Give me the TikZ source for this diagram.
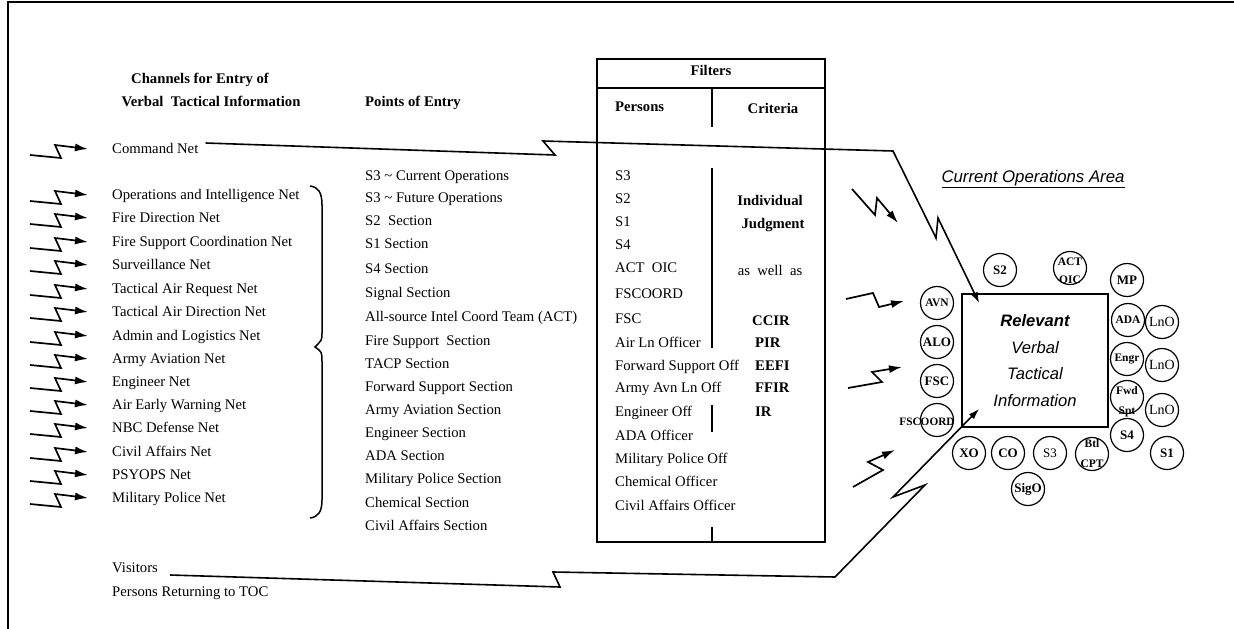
\documentclass[tikz,border=0pt]{standalone}
\usepackage{fontspec}
\setmainfont{Liberation Serif}
\setsansfont{Liberation Sans}
\usetikzlibrary{arrows.meta,calc,positioning}

\begin{document}
\begin{tikzpicture}[x=1pt, y=-1pt, every node/.style={font=\fontsize{14.7}{17}\selectfont}]
  \tikzstyle{entry} = [anchor=west, inner sep=0pt, text height=10pt, text depth=3pt]
  \tikzstyle{head} = [entry, font=\fontsize{14.7}{17}\selectfont\bfseries]
  \tikzstyle{bolt} = [draw, line width=1.7pt, -{Latex[length=13pt,width=8pt]}]
  \tikzstyle{feed} = [draw, line width=1.6pt, -{Latex[length=11pt,width=7pt]}]
  \tikzstyle{member} = [circle, draw, line width=1.2pt, minimum size=33pt, inner sep=0pt, font=\fontsize{13}{15}\selectfont\bfseries]
  \tikzstyle{tight} = [member, font=\fontsize{11.5}{19}\selectfont\bfseries]
  \tikzstyle{liaison} = [member, font=\fontsize{14}{15}\selectfont]

  \useasboundingbox (0,0) rectangle (1234,629);
  \draw[line width=2pt] (8,629) -- (8,2) -- (1234,2);

  % Channels
  \node[head, anchor=center] (chan1) at (200,80) {Channels for Entry of};
  \node[head, anchor=center] (chan2) at (211,103) {Verbal\ \ Tactical Information};
  \node[entry] (cmd) at (112,150) {Command Net};
  \node[entry] (ops) at (112,196) {Operations and Intelligence Net};
  \node[entry] (fdn) at (112,219) {Fire Direction Net};
  \node[entry] (fsn) at (112,243) {Fire Support Coordination Net};
  \node[entry] (surv) at (112,266) {Surveillance Net};
  \node[entry] (tarn) at (112,290) {Tactical Air Request Net};
  \node[entry] (tadn) at (112,313) {Tactical Air Direction Net};
  \node[entry] (aln) at (112,337) {Admin and Logistics Net};
  \node[entry] (aan) at (112,360) {Army Aviation Net};
  \node[entry] (engn) at (112,383) {Engineer Net};
  \node[entry] (aewn) at (112,406) {Air Early Warning Net};
  \node[entry] (nbc) at (112,429) {NBC Defense Net};
  \node[entry] (cavn) at (112,453) {Civil Affairs Net};
  \node[entry] (psy) at (112,476) {PSYOPS Net};
  \node[entry] (mpn) at (112,499) {Military Police Net};
  \node[entry] (vis) at (112,569) {Visitors};
  \node[entry] (ret) at (112,593) {Persons Returning to TOC};

  \foreach \n in {cmd,ops,fdn,fsn,surv,tarn,tadn,aln,aan,engn,aewn,nbc,cavn,psy,mpn}
    \draw[bolt] ($(\n.west)+(-82,5)$) -- ++(31,3) -- ++(-6,-13) -- ($(\n.west)+(-24,-1)$);

  \draw[line width=1.5pt] (310,186) .. controls (318,187) and (322,192) .. (322,205) -- (322,333)
    .. controls (322,340) .. (315,347) .. controls (322,352) .. (322,362) -- (322,500)
    .. controls (322,512) and (318,517) .. (310,518);

  % Points of Entry
  \node[head] (poe) at (365,103) {Points of Entry};
  \node[entry] (s3cur) at (365,177) {S3 \textasciitilde\ Current Operations};
  \node[entry] (s3fut) at (365,199) {S3 \textasciitilde\ Future Operations};
  \node[entry] (s2sec) at (365,222) {S2\ \ Section};
  \node[entry] (s1sec) at (365,245) {S1 Section};
  \node[entry] (s4sec) at (365,270) {S4 Section};
  \node[entry] (sigsec) at (365,294) {Signal Section};
  \node[entry] (actsec) at (365,318) {All-source Intel Coord Team (ACT)};
  \node[entry] (fssec) at (365,342) {Fire Support\ \ Section};
  \node[entry] (tacp) at (365,365) {TACP Section};
  \node[entry] (fwdsec) at (365,388) {Forward Support Section};
  \node[entry] (aavsec) at (365,411) {Army Aviation Section};
  \node[entry] (engsec) at (365,434) {Engineer Section};
  \node[entry] (adasec) at (365,457) {ADA Section};
  \node[entry] (mpsec) at (365,480) {Military Police Section};
  \node[entry] (chemsec) at (365,504) {Chemical Section};
  \node[entry] (casec) at (365,527) {Civil Affairs Section};

  % Filters
  \draw[line width=1.5pt] (597,59) rectangle (825,542);
  \draw[line width=1.5pt] (597,88) -- (825,88);
  \draw[line width=1.2pt] (712,88) -- (712,127) (712,168) -- (712,348) (712,405) -- (712,432) (712,527) -- (712,542);
  \node[head, anchor=center] (filt) at (711,72) {Filters};
  \node[head] (pers) at (615,108) {Persons};
  \node[head, anchor=center] (crit) at (773,110) {Criteria};
  \node[entry] (ps3) at (615,177) {S3};
  \node[entry] (ps2) at (615,200) {S2};
  \node[entry] (ps1) at (615,223) {S1};
  \node[entry] (ps4) at (615,246) {S4};
  \node[entry] (pact) at (615,269) {ACT\ \ OIC};
  \node[entry] (pfsco) at (615,295) {FSCOORD};
  \node[entry] (pfsc) at (615,320) {FSC};
  \node[entry] (paln) at (615,344) {Air Ln Officer};
  \node[entry] (pfwd) at (615,367) {Forward Support Off};
  \node[entry] (paav) at (615,389) {Army Avn Ln Off};
  \node[entry] (peng) at (615,413) {Engineer Off};
  \node[entry] (pada) at (615,437) {ADA Officer};
  \node[entry] (pmp) at (615,460) {Military Police Off};
  \node[entry] (pchem) at (615,483) {Chemical Officer};
  \node[entry] (pca) at (615,507) {Civil Affairs Officer};
  \node[head, anchor=center] (indiv) at (770,202) {Individual};
  \node[head, anchor=center] (judg) at (773,225) {Judgment};
  \node[entry, anchor=center] (aswell) at (770,272) {as\ \ well\ \ as};
  \node[head] (ccir) at (752,322) {CCIR};
  \node[head] (pir) at (755,344) {PIR};
  \node[head] (eefi) at (755,367) {EEFI};
  \node[head] (ffir) at (755,389) {FFIR};
  \node[head] (ir) at (755,413) {IR};

  % Current Operations Area
  \node[font=\fontsize{16.8}{20}\selectfont\sffamily\itshape] (coa) at (1033,179) {\underline{Current Operations Area}};
  \node[draw, line width=1.5pt, minimum width=146pt, minimum height=133pt, align=center,
    font=\fontsize{16.6}{26.6}\selectfont\sffamily\itshape] (rvti) at (1035,360.5)
    {\textbf{Relevant}\\Verbal\\Tactical\\Information};
  \node[member] (s2c) at (1000,270) {S2};
  \node[tight, label={[font=\fontsize{11.5}{18}\selectfont\bfseries, align=center, yshift=-3pt]center:ACT\\OIC}] (actc) at (1070,268) {};
  \node[member] (mpc) at (1127,280) {MP};
  \node[tight] (avn) at (937,303) {AVN};
  \node[member] (alo) at (937,342) {ALO};
  \node[member] (fscc) at (937,381) {FSC};
  \node[tight, label={[font=\fontsize{11.3}{13}\selectfont\bfseries, xshift=-10pt, yshift=-2pt]center:FSCOORD}] (fscoord) at (937,420) {};
  \node[member] (xo) at (969,453) {XO};
  \node[member] (co) at (1008,453) {CO};
  \node[member, font=\fontsize{13}{15}\selectfont] (s3c) at (1050,453) {S3};
  \node[tight, label={[font=\fontsize{11.5}{20}\selectfont\bfseries, align=center]center:Btl\\CPT}] (btl) at (1092,454) {};
  \node[member] (sigo) at (1028,489) {SigO};
  \node[member] (s4c) at (1127,435) {S4};
  \node[member] (s1c) at (1167,453) {S1};
  \node[tight] (adac) at (1128,320) {ADA};
  \node[liaison] (lno1) at (1162,322) {LnO};
  \node[tight] (engr) at (1127,359) {Engr};
  \node[liaison] (lno2) at (1162,365) {LnO};
  \node[tight, label={[font=\fontsize{11.5}{20}\selectfont\bfseries, align=center, yshift=-5pt]center:Fwd\\Spt}] (fwd) at (1127,397) {};
  \node[liaison] (lno3) at (1162,410) {LnO};

  % Connections
  \draw[feed] ($(cmd.east)+(7,-7)$) -- (555,155) -- (543,141) -- (893,151) -- (936,238) -- (938,218) -- ($(rvti.north west)+(18,10)$);
  \draw[feed] ($(vis.east)+(12,6)$) -- (560,587) -- (553,572) -- (835,577) -- (925,485) -- (893,497) -- ($(rvti.south west)+(18,-19)$);
  \coordinate (b1) at (898,223);
  \coordinate (b2) at (904,301);
  \coordinate (b3) at (902,367);
  \coordinate (b4) at (895,450);
  \draw[bolt] ($(b1)+(-46,-34)$) -- ($(b1)+(-23,-8)$) -- ($(b1)+(-21,-25)$) -- (b1);
  \draw[bolt] ($(b2)+(-58,-2)$) -- ($(b2)+(-31,-8)$) -- ($(b2)+(-25,6)$) -- (b2);
  \draw[bolt] ($(b3)+(-54,21)$) -- ($(b3)+(-20,15)$) -- ($(b3)+(-30,5)$) -- (b3);
  \draw[bolt] ($(b4)+(-42,37)$) -- ($(b4)+(-12,20)$) -- ($(b4)+(-27,12)$) -- (b4);
\end{tikzpicture}
\end{document}
